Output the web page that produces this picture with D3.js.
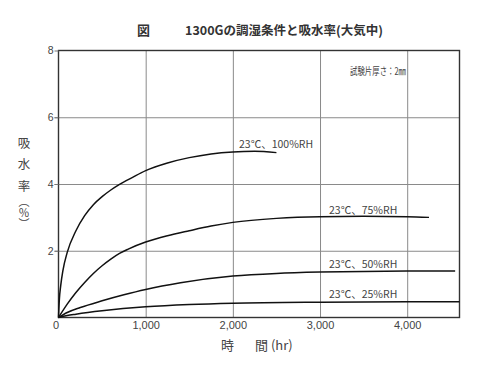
<!DOCTYPE html>
<html>
<head>
<meta charset="utf-8">
<script src="https://cdn.jsdelivr.net/npm/d3@7"></script>
<style>
  html, body { margin: 0; padding: 0; background: #fff; }
  svg { display: block; font-family: "Noto Sans CJK JP", "Noto Sans", sans-serif; }
  .grid line { stroke: #8a8a8a; stroke-width: 1; }
  .grid path { display: none; }
  .tick text { fill: #444; }
</style>
</head>
<body>
<div id="chart"></div>
<script>
// hours vs water absorption (%)
const xTicks = [0, 1000, 2000, 3000, 4000];
const yTicks = [2, 4, 6, 8];

const rh100 = [[0, 0], [10, 0.55], [25, 0.95], [50, 1.4], [100, 1.95], [200, 2.6],
  [300, 3.05], [400, 3.38], [500, 3.62], [600, 3.82], [700, 3.99], [850, 4.2],
  [1000, 4.4], [1250, 4.63], [1500, 4.79], [1750, 4.9], [2000, 4.96], [2250, 4.98],
  [2500, 4.94]];
const rh75 = [[0, 0], [100, 0.4], [200, 0.75], [300, 1.05], [400, 1.32], [500, 1.55],
  [600, 1.75], [700, 1.92], [800, 2.05], [1000, 2.26], [1250, 2.45], [1500, 2.6],
  [1750, 2.74], [2000, 2.85], [2500, 2.97], [3000, 3.02], [3500, 3.03], [4000, 3.02],
  [4250, 3.0]];
const rh50 = [[0, 0], [100, 0.15], [250, 0.3], [500, 0.5], [750, 0.68], [1000, 0.84],
  [1400, 1.04], [2000, 1.24], [2500, 1.32], [3000, 1.36], [3500, 1.38], [4000, 1.39],
  [4550, 1.39]];
const rh25 = [[0, 0], [100, 0.06], [200, 0.1], [500, 0.2], [1000, 0.32], [1500, 0.39],
  [2000, 0.43], [3000, 0.46], [4000, 0.47], [4600, 0.47]];

const seriesNames = ['23℃、100%RH', '23℃、75%RH', '23℃、50%RH', '23℃、25%RH'];
const seriesData = [rh100, rh75, rh50, rh25];

const W = 500;
const H = 367;
const plotLeft = 58.5;
const plotRight = 459.5;
const plotTop = 50.5;
const plotBottom = 317.5;

const svg = d3.select('#chart')
  .append('svg')
  .attr('width', W)
  .attr('height', H);

const x = d3.scaleLinear().domain([0, 4600]).range([plotLeft, plotRight]);
const y = d3.scaleLinear().domain([0, 8]).range([plotBottom, plotTop]);

// vertical grid lines
svg.append('g')
  .attr('class', 'grid')
  .attr('transform', `translate(0,${plotBottom})`)
  .call(d3.axisBottom(x).tickValues(xTicks.slice(1))
    .tickSize(-(plotBottom - plotTop)).tickFormat(''));

// horizontal grid lines (with a short stub left of the axis)
svg.append('g')
  .attr('class', 'grid')
  .attr('transform', `translate(${plotRight},0)`)
  .call(d3.axisLeft(y).tickValues(yTicks.slice(0, 3))
    .tickSize(plotRight - plotLeft + 4).tickFormat(''));

// frame
svg.append('rect')
  .attr('x', plotLeft)
  .attr('y', plotTop)
  .attr('width', plotRight - plotLeft)
  .attr('height', plotBottom - plotTop)
  .attr('fill', 'none')
  .attr('stroke', '#333')
  .attr('stroke-width', 1.4);

// tick labels
const xAxis = svg.append('g')
  .attr('transform', `translate(0,${plotBottom})`)
  .call(d3.axisBottom(x).tickValues(xTicks).tickSize(0).tickPadding(4)
    .tickFormat(d3.format(',')));
xAxis.select('.domain').remove();
xAxis.selectAll('text')
  .attr('font-size', 11)
  .attr('dx', (d) => (d === 0 ? -3 : 0));

const yAxis = svg.append('g')
  .attr('transform', `translate(${plotLeft},0)`)
  .call(d3.axisLeft(y).tickValues(yTicks).tickSize(4).tickPadding(1));
yAxis.select('.domain').remove();
yAxis.selectAll('line').attr('stroke', '#777');
yAxis.selectAll('text').attr('font-size', 10.5);

// curves
const line = d3.line()
  .x((d) => x(d[0]))
  .y((d) => y(d[1]))
  .curve(d3.curveMonotoneX);

seriesData.forEach((data) => {
  svg.append('path')
    .datum(data)
    .attr('fill', 'none')
    .attr('stroke', '#111')
    .attr('stroke-width', 1.5)
    .attr('d', line);
});

// curve labels
const labelPos = [[2071, 5.07], [3103, 3.1], [3103, 1.47], [3103, 0.57]];
seriesNames.forEach((name, i) => {
  svg.append('text')
    .attr('x', x(labelPos[i][0]))
    .attr('y', y(labelPos[i][1]))
    .attr('font-size', 10.5)
    .attr('fill', '#444')
    .text(name);
});

// note
svg.append('text')
  .attr('x', 350)
  .attr('y', 75)
  .attr('font-size', 10.5)
  .attr('fill', '#444')
  .attr('textLength', 56)
  .attr('lengthAdjust', 'spacingAndGlyphs')
  .text('試験片厚さ：2㎜');

// title
svg.append('text')
  .attr('x', 137)
  .attr('y', 35)
  .attr('font-size', 13)
  .attr('font-weight', 'bold')
  .attr('fill', '#333')
  .text('図');
svg.append('text')
  .attr('x', 185)
  .attr('y', 35)
  .attr('font-size', 12.5)
  .attr('font-weight', 'bold')
  .attr('fill', '#333')
  .text('1300Gの調湿条件と吸水率(大気中)');

// x-axis title
svg.append('text')
  .attr('x', 221)
  .attr('y', 350)
  .attr('font-size', 13)
  .attr('fill', '#444')
  .text('時');
svg.append('text')
  .attr('x', 255)
  .attr('y', 350)
  .attr('font-size', 13)
  .attr('fill', '#444')
  .text('間 (hr)');

// y-axis title, stacked vertically
const yTitle = [['吸', 148], ['水', 169], ['率', 191]];
yTitle.forEach(([ch, cy]) => {
  svg.append('text')
    .attr('x', 24)
    .attr('y', cy)
    .attr('text-anchor', 'middle')
    .attr('font-size', 12.5)
    .attr('fill', '#444')
    .text(ch);
});
svg.append('text')
  .attr('x', 24)
  .attr('y', 196)
  .attr('font-size', 11)
  .attr('fill', '#444')
  .style('writing-mode', 'vertical-rl')
  .text('（％）');
</script>
</body>
</html>
